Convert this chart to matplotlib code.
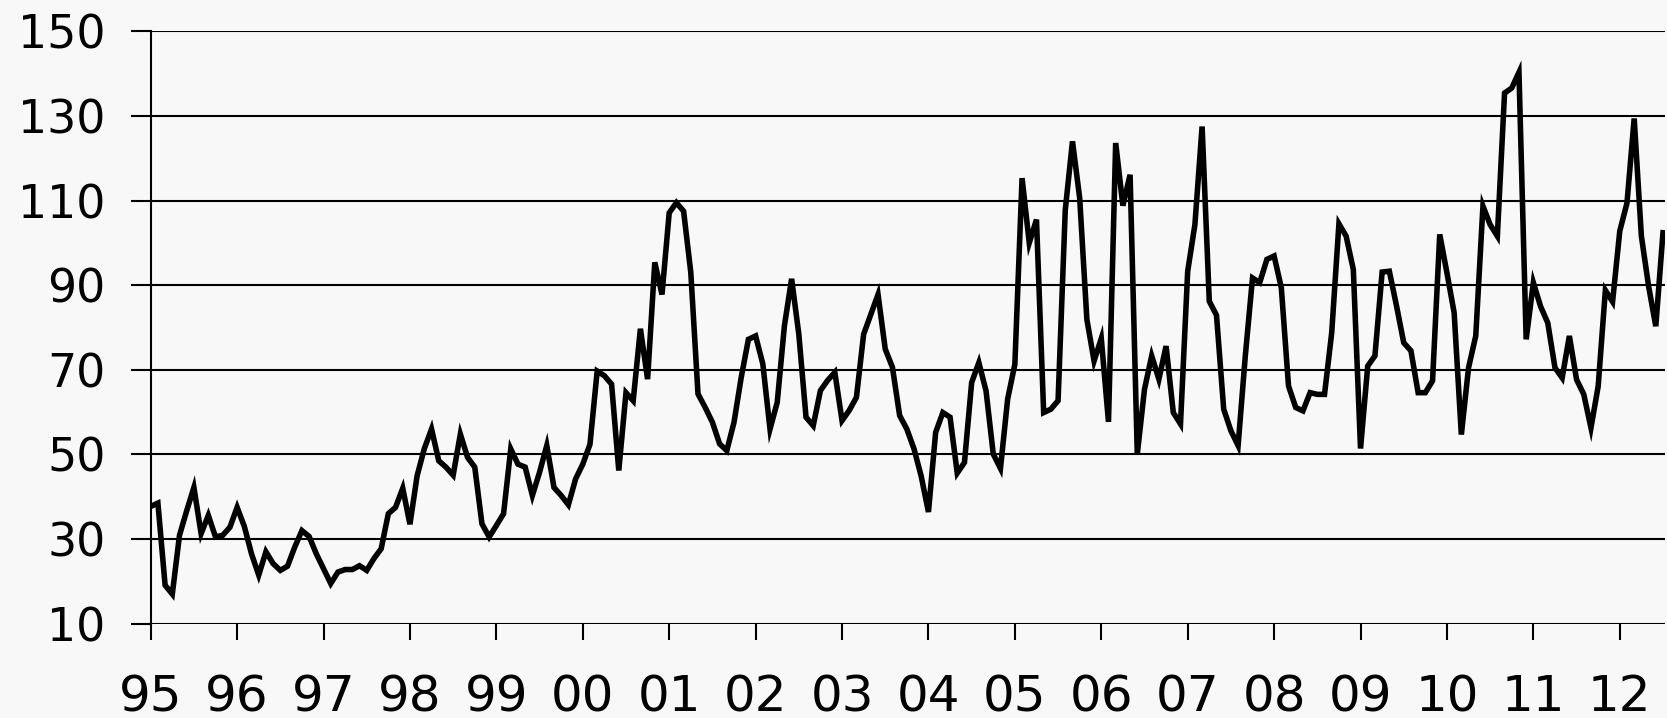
import matplotlib
matplotlib.use("Agg")
import matplotlib.pyplot as plt
import numpy as np

years = ["95", "96", "97", "98", "99", "00", "01", "02", "03", "04",
         "05", "06", "07", "08", "09", "10", "11", "12"]

v1995 = [37.7, 38.5, 19.1, 17.0, 30.9, 36.7, 42.2, 31.3, 35.6, 30.5, 30.9, 32.8]
v1996 = [37.5, 33.0, 26.5, 21.5, 27.0, 24.2, 22.6, 23.6, 28.1, 32.0, 30.6, 26.5]
v1997 = [23.0, 19.5, 22.2, 22.8, 22.8, 23.7, 22.6, 25.4, 27.7, 36.0, 37.5, 42.0]
v1998 = [33.5, 45.0, 51.4, 56.0, 48.5, 47.0, 45.1, 54.8, 49.3, 47.0, 33.6, 30.5]
v1999 = [33.2, 36.0, 51.3, 47.7, 47.0, 40.3, 45.8, 52.1, 42.2, 40.3, 38.1, 44.2]
v2000 = [47.7, 52.4, 69.7, 68.6, 66.6, 46.2, 64.6, 62.7, 79.7, 67.8, 95.4, 87.8]
v2001 = [107.1, 109.5, 107.5, 93.0, 64.3, 61.1, 57.6, 52.5, 50.9, 57.6, 68.2, 77.2]
v2002 = [78.0, 71.4, 56.0, 62.3, 80.4, 91.5, 78.4, 58.8, 56.8, 65.1, 67.5, 69.4]
v2003 = [58.0, 60.4, 63.5, 78.4, 83.1, 87.8, 74.9, 70.6, 59.2, 56.0, 51.3, 44.8]
v2004 = [36.4, 55.2, 59.9, 58.8, 45.6, 48.1, 67.0, 71.7, 65.0, 50.1, 46.7, 63.1]
v2005 = [71.3, 115.3, 100.0, 105.5, 59.9, 60.7, 62.7, 107.8, 124.0, 110.6, 81.9, 72.1]
v2006 = [77.4, 57.7, 123.6, 108.8, 116.1, 50.1, 65.4, 73.3, 67.8, 75.6, 59.9, 57.2]
v2007 = [93.3, 104.3, 127.5, 86.2, 82.9, 60.7, 55.6, 52.1, 73.3, 91.7, 90.6, 96.1]
v2008 = [96.9, 89.4, 66.2, 61.1, 60.3, 64.6, 64.2, 64.2, 78.8, 104.5, 101.6, 93.7]
v2009 = [51.4, 70.9, 73.3, 93.1, 93.3, 85.1, 76.4, 74.5, 64.6, 64.6, 67.4, 102.0]
v2010 = [92.9, 83.5, 54.7, 70.5, 78.0, 108.7, 104.3, 101.6, 135.4, 136.6, 140.3, 77.2]
v2011 = [90.6, 85.0, 81.1, 70.5, 68.1, 78.0, 67.7, 64.2, 56.3, 66.1, 88.8, 86.1]
v2012 = [102.8, 109.4, 129.4, 101.6, 89.8, 80.3, 102.4]

yticks = [10, 30, 50, 70, 90, 110, 130, 150]

values = (v1995 + v1996 + v1997 + v1998 + v1999 + v2000 + v2001 + v2002 + v2003
          + v2004 + v2005 + v2006 + v2007 + v2008 + v2009 + v2010 + v2011 + v2012)
x = np.arange(len(values))

W, H = 1667, 718
fig = plt.figure(figsize=(W / 100, H / 100), dpi=100)
bg = "#f8f8f8"
fig.patch.set_facecolor(bg)

left, right = 150.7 / W, 1665 / W
bottom, top = 1 - 623.7 / H, 1 - 31.3 / H
ax = fig.add_axes([left, bottom, right - left, top - bottom])
ax.set_facecolor(bg)

ax.plot(x, values, color="black", lw=4.0, solid_joinstyle="miter", zorder=3)

ax.set_ylim(10, 150)
ax.set_xlim(0, len(values) - 1 + 0.28)
ax.set_yticks(yticks)
ax.set_yticklabels([str(t) for t in yticks])
ax.set_xticks(np.arange(len(years)) * 12)
ax.set_xticklabels(years)

ax.grid(axis="y", color="black", lw=1.5, zorder=1)
ax.set_axisbelow(True)
for s in ["top", "right", "bottom"]:
    ax.spines[s].set_visible(False)
ax.spines["left"].set_linewidth(1.5)
ax.spines["left"].set_color("black")

ax.tick_params(axis="y", direction="out", length=14.4, width=1.5, pad=18,
               labelsize=33)
ax.tick_params(axis="x", direction="out", length=11.5, width=1.5, pad=24,
               labelsize=36)
for lab in ax.get_xticklabels() + ax.get_yticklabels():
    lab.set_family("DejaVu Sans")
    lab.set_color("black")

fig.savefig("out.png", dpi=100, facecolor=bg)
